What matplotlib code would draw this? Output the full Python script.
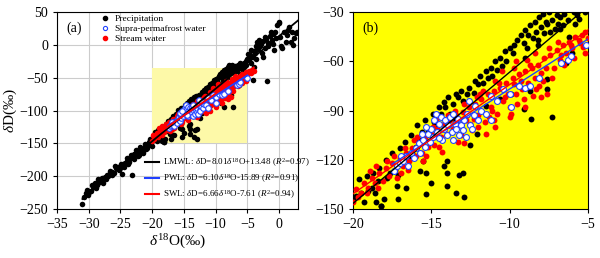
import matplotlib
matplotlib.use('Agg')
import matplotlib.pyplot as plt
import numpy as np
from matplotlib.patches import Rectangle
from matplotlib.lines import Line2D

plt.rcParams['font.family'] = 'Liberation Serif'
plt.rcParams['mathtext.fontset'] = 'custom'
plt.rcParams['mathtext.rm'] = 'Liberation Serif'
plt.rcParams['mathtext.it'] = 'Liberation Serif:italic'

# precipitation (d18O, dD)
precip_d18o = [
    -31.0, -30.5, -30.1, -29.7, -29.3, -29.0, -28.7, -28.4, -28.1, -27.8,
    -27.5, -27.2, -26.9, -26.6, -26.3, -26.0, -25.7, -25.4, -25.1, -24.8,
    -24.6, -24.3, -24.0, -23.8, -23.5, -23.2, -23.0, -22.8, -22.5, -22.3,
    -22.0, -21.7, -21.5, -21.2, -21.0, -20.7, -20.5, -20.2, -20.0,
    -30.8, -30.3, -29.9, -29.5, -28.9, -28.5, -27.9, -27.3, -26.7, -26.4,
    -25.8, -25.3, -24.9, -24.4, -23.9, -23.6, -23.3, -22.9, -22.6, -22.1,
    -21.9, -21.4, -21.1, -20.8, -20.4, -20.1,
    -19.8, -19.5, -19.3, -19.0, -18.8, -18.6, -18.4, -18.2, -18.0, -17.8,
    -17.6, -17.3, -17.1, -16.9, -16.6, -16.5, -16.2, -16.0, -15.8, -15.6,
    -15.3, -15.3, -15.0, -15.5, -15.7, -14.2, -14.0, -14.0, -14.0, -13.4,
    -13.2, -13.0, -12.9, -12.5, -12.1, -17.2, -17.1, -18.2,
    -19.6, -19.1, -18.7, -18.5, -18.3, -17.9, -17.5, -17.0, -16.7, -16.3,
    -15.9, -15.4, -14.9, -14.5, -14.2, -13.9, -13.4, -13.1, -12.6, -12.2,
    -11.9, -11.5, -11.2, -10.9, -10.6, -10.3, -10.0, -9.7, -9.3, -9.0,
    -8.7, -8.4, -8.1, -7.9, -7.5, -8.9, -8.2, -7.4, -6.9, -6.6, -6.3, -5.7, -5.5,
    -14.8, -14.4, -14.1, -13.8, -13.6, -13.3, -13.0, -12.7, -12.3, -12.0,
    -11.7, -11.4, -11.1, -10.8, -10.5, -10.2, -9.8, -9.5, -9.1, -8.8,
    -8.5, -8.3, -8.0, -7.8, -7.6, -7.3, -7.1, -6.8, -6.5, -6.2, -5.9,
    -11.5, -10.6, -9.9, -9.1, -8.7, -8.66, -7.6, -7.6, -7.3, -6.4, -6.0,
    -15.2, -14.6, -13.5,
    -5.6, -5.3, -5.0, -4.8, -4.6, -4.3, -4.1, -4.0, -3.8, -3.5,
    -3.5, -3.3, -3.0, -2.8, -2.6, -2.5, -2.2, -2.0, -1.9, -1.8,
    -1.5, -1.2, -1.0, -0.8, -0.6, -0.3, -0.1, 0.2, 0.5, 0.8,
    1.0, 1.4, 1.6, 1.8, 2.0, 2.2, 2.6, -4.1, -4.1, -3.9,
    -5.8, -6.8, -6.2, -7.0, -7.7, -8.2, -9.0,
    -5.2, -4.9, -4.4, -3.7, -3.2, -2.7, -2.3, -1.7, -1.3, -0.9,
    -0.5, 0.0, 0.3, 1.2, 2.4, 2.8, -4.5, -3.6,
]
precip_dD = [
    -243, -226, -228, -222, -216, -211, -214, -209, -206, -210,
    -201, -198, -200, -195, -193, -195, -188, -186, -188, -196,
    -182, -180, -177, -181, -173, -198, -170, -166, -165, -170,
    -162, -158, -161, -155, -159, -152, -148, -150, -144,
    -232, -221, -224, -214, -218, -205, -203, -205, -192, -198,
    -185, -191, -181, -186, -172, -178, -168, -174, -160, -168,
    -156, -164, -151, -157, -143, -154,
    -142, -140, -146, -139, -137, -140, -133, -148, -144, -131,
    -128, -126, -129, -122, -137, -119, -116, -112, -108, -103,
    -128, -141, -134, -121, -127, -124, -121, -136, -128, -140,
    -129, -128, -143, -111, -104, -136, -144, -148,
    -132, -130, -128, -146, -125, -120, -116, -113, -109, -105,
    -99, -96, -92, -88, -85, -82, -80, -78, -76, -72,
    -69, -66, -64, -60, -58, -54, -52, -50, -44, -41,
    -38, -36, -33, -31, -30, -52, -47, -42, -37, -38, -35, -32, -28,
    -97, -92, -88, -92, -86, -82, -84, -80, -79, -74,
    -73, -70, -69, -65, -63, -60, -55, -47, -49, -44,
    -46, -42, -39, -43, -37, -35, -40, -33, -31, -28, -30,
    -87, -83, -80, -89, -78, -95, -71, -77, -94, -61, -55,
    -103, -100, -95,
    -34, -25, -22, -21, -15, -18, -19, -10, -12, -4,
    4, -6, -2, 2, -19, 6, -5, 9, -55, 3,
    13, 8, 16, -8, 19, 30, 33, 12, -5, 20,
    5, 22, 28, 4, 19, 0, 18, -40, -53, -33,
    -37, -40, -45, -32, -36, -50, -58,
    -30, -14, -8, -2, 8, -12, 12, -2, 20, 2,
    10, 35, -2, 15, 10, 20, -28, -22,
]

# supra-permafrost water
supra_d18o = [
    -17.4, -17.2, -17.0, -16.8, -16.6, -16.5, -16.3, -16.1, -16.0, -15.8,
    -15.7, -15.5, -15.4, -15.2, -15.1, -15.0, -14.9, -14.8, -14.7, -14.6,
    -14.5, -14.4, -14.3, -14.2, -14.1, -14.0, -13.9, -13.8, -13.7, -13.6,
    -13.5, -13.4, -13.3, -13.2, -13.1, -13.0, -12.9, -12.8, -12.7, -12.6,
    -12.5, -12.4, -12.3, -12.2, -12.0, -11.8, -11.5, -11.2, -11.2, -10.8,
    -10.4, -10.0, -9.9, -9.4, -9.0, -8.7, -8.1, -6.7, -6.3, -6.1,
    -16.9, -15.6, -14.5, -13.6, -15.3, -5.1,
]
supra_dD = [
    -127, -124, -122, -121, -118, -124, -116, -119, -113, -110,
    -116, -108, -112, -104, -109, -101, -106, -96, -92, -103,
    -98, -94, -108, -101, -96, -105, -99, -94, -103, -108,
    -98, -101, -95, -105, -99, -102, -96, -106, -92, -84,
    -99, -101, -93, -87, -96, -90, -92, -96, -81, -84,
    -77, -80, -88, -75, -76, -75, -70, -61, -59, -57,
    -118, -104, -107, -92, -100, -50,
]

# stream water
stream_d18o = [
    -20.0, -19.8, -19.5, -19.3, -19.0, -18.8, -18.6, -18.3, -18.1, -17.9,
    -17.7, -17.5, -17.3, -17.0, -16.8, -16.6, -16.4, -16.2, -16.0, -15.8,
    -15.6, -15.4, -15.2, -15.0, -14.8, -14.6, -14.4, -14.2, -14.0, -13.8,
    -13.6, -13.4, -13.2, -13.0, -12.8, -12.6, -12.4, -12.2, -12.0, -11.8,
    -11.6, -11.4, -11.2, -11.0, -10.8, -10.6, -10.4, -10.2, -10.0, -9.8,
    -9.6, -9.4, -9.2, -9.0, -8.8, -8.6, -8.4, -8.2, -8.0, -7.8,
    -7.6, -7.4, -7.2, -7.0, -6.8, -6.6, -6.4, -6.2, -6.0, -5.8,
    -5.5, -5.2, -5.0, -4.8, -4.5, -4.2, -4.0, -12.9, -11.5, -10.9,
    -9.9, -15.5, -16.9, -14.3, -13.1, -12.3, -11.1, -10.3, -9.5, -8.5,
    -7.9, -11.7, -10.9, -9.7, -8.9, -7.5, -6.9, -13.5, -12.1, -14.7,
    -16.1, -17.4, -18.5, -12.7, -9.3, -8.1, -5.2, -5.4,
    -19.7, -19.1, -18.9, -18.4, -17.8, -17.2, -16.7, -16.5, -15.9, -15.3,
    -14.9, -14.5, -13.9, -13.3, -12.9, -12.5, -11.9, -11.3, -10.7, -10.1,
    -9.7, -9.1, -8.7, -8.3, -7.7, -7.3, -6.7, -6.5, -6.1, -5.9,
    -5.6, -5.3, -10.5, -9.6, -8.4, -12.0, -11.0, -10.0, -9.0, -8.0,
]
stream_dD = [
    -146, -138, -140, -134, -137, -131, -134, -128, -133, -125,
    -130, -122, -126, -119, -124, -116, -121, -113, -118, -110,
    -116, -107, -112, -104, -111, -101, -106, -98, -104, -96,
    -101, -93, -99, -91, -96, -88, -102, -86, -93, -83,
    -97, -80, -88, -78, -92, -76, -84, -73, -88, -70,
    -80, -68, -77, -66, -73, -64, -70, -62, -67, -58,
    -80, -56, -64, -53, -59, -50, -55, -48, -52, -45,
    -49, -42, -46, -40, -43, -38, -40, -110, -104, -100,
    -92, -121, -128, -115, -105, -95, -90, -82, -86, -81,
    -72, -78, -72, -64, -59, -52, -48, -90, -82, -96,
    -108, -118, -124, -93, -72, -75, -55, -44,
    -143, -140, -127, -137, -121, -131, -113, -126, -106, -118,
    -100, -112, -93, -109, -86, -98, -80, -94, -73, -80,
    -74, -83, -62, -77, -64, -70, -56, -62, -50, -58,
    -47, -51, -66, -60, -55, -100, -96, -94, -88, -82,
]

# regression lines: (slope, intercept), x extent
line_colors = ['black', '#1f3fff', 'red']
line_coef = [(8.01, 13.48), (6.10, -15.89), (6.66, -7.61)]
line_xrange = [(-31.0, 3.0), (-17.5, -5.0), (-20.0, -4.0)]
line_labels = [
    r'LMWL: $\it{\delta}$D=8.01$\it{\delta}^{18}$O+13.48 ($\it{R}^2$=0.97)',
    r'PWL: $\it{\delta}$D=6.10$\it{\delta}^{18}$O-15.89 ($\it{R}^2$=0.91)',
    r'SWL: $\it{\delta}$D=6.66$\it{\delta}^{18}$O-7.61 ($\it{R}^2$=0.94)',
]

fig = plt.figure(figsize=(6, 2.58), dpi=100)
ax1 = fig.add_axes([0.095, 0.19, 0.402, 0.763])
ax2 = fig.add_axes([0.588, 0.19, 0.392, 0.763])


def draw(ax, ms, lw):
    ax.scatter(precip_d18o, precip_dD, s=ms, c='black', lw=0, zorder=3)
    ax.scatter(stream_d18o, stream_dD, s=ms, c='red', lw=0, zorder=4)
    ax.scatter(supra_d18o, supra_dD, s=ms, facecolor='white', edgecolor='#2244ff',
               lw=0.8, zorder=5)
    for (k, b), (x0, x1), col in zip(line_coef, line_xrange, line_colors):
        xs = np.array([x0, x1])
        ax.plot(xs, k * xs + b, color=col, lw=lw, zorder=6)
    ax.tick_params(direction='out', length=3, labelsize=10)


draw(ax1, 16, 1.3)
ax1.add_patch(Rectangle((-20, -150), 15, 115, facecolor='#fdf9a8', edgecolor='none', zorder=1))
ax1.set_xlim(-35, 3)
ax1.set_ylim(-250, 50)
ax1.set_xticks(np.arange(-35, 1, 5))
ax1.set_yticks(np.arange(-250, 51, 50))
ax1.grid(True, color='#cccccc', lw=0.8, zorder=0)
ax1.set_axisbelow(True)
ax1.set_xlabel(r'$\it{\delta}^{18}$O(‰)', fontsize=11, labelpad=1)
ax1.set_ylabel(r'$\it{\delta}$D(‰)', fontsize=11, labelpad=0)
ax1.text(0.04, 0.95, '(a)', transform=ax1.transAxes, fontsize=10, va='top')

pt_handles = [
    Line2D([], [], ls='none', marker='o', ms=3, color='black'),
    Line2D([], [], ls='none', marker='o', ms=3, mfc='white', mec='#2244ff', mew=0.8),
    Line2D([], [], ls='none', marker='o', ms=3, color='red'),
]
leg1 = ax1.legend(pt_handles, ['Precipitation', 'Supra-permafrost water', 'Stream water'],
                  loc='upper left', bbox_to_anchor=(0.15, 1.02), frameon=False, fontsize=6.8,
                  handlelength=1.0, handletextpad=0.6, labelspacing=0.15, borderpad=0.2)
ax1.add_artist(leg1)
ln_handles = [Line2D([], [], color=c, lw=1.5) for c in line_colors]
ax1.legend(ln_handles, line_labels, loc='lower left', bbox_to_anchor=(0.33, 0.0),
           frameon=False, fontsize=6.5, handlelength=1.6, handletextpad=0.4,
           labelspacing=0.35, borderpad=0.4)

draw(ax2, 18, 1.0)
ax2.set_facecolor('#ffff00')
ax2.set_xlim(-20, -5)
ax2.set_ylim(-150, -30)
ax2.set_xticks([-20, -15, -10, -5])
ax2.set_yticks([-150, -120, -90, -60, -30])
ax2.text(0.04, 0.95, '(b)', transform=ax2.transAxes, fontsize=10, va='top')

fig.savefig('out.png', dpi=100)
